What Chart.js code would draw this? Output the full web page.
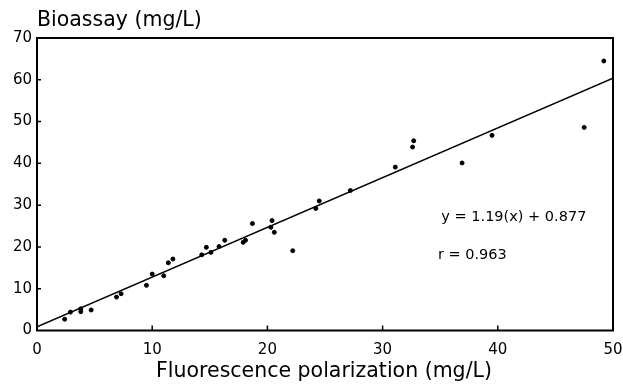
<!DOCTYPE html>
<html><head><meta charset="utf-8">
<script src="https://cdn.jsdelivr.net/npm/chart.js@4"></script>
<style>html,body{margin:0;padding:0;background:#fff}#wrap{width:623px;height:384px}</style>
</head><body><div id="wrap"><canvas id="c" width="623" height="384"></canvas></div>
<script>
const fluorescence = [2.4, 2.9, 3.8, 3.8, 4.7, 6.9, 7.3, 9.5, 10.0, 11.0, 11.4, 11.8, 14.3, 14.7, 15.1, 15.8, 16.3, 17.9, 18.1, 18.7, 20.3, 20.4, 20.6, 22.2, 24.2, 24.5, 27.2, 31.1, 32.6, 32.7, 36.9, 39.5, 47.5, 49.2];
const bioassay    = [2.7, 4.4, 5.2, 4.5, 4.9, 8.0, 8.8, 10.8, 13.5, 13.1, 16.2, 17.1, 18.1, 19.9, 18.7, 20.1, 21.6, 21.1, 21.6, 25.6, 24.7, 26.3, 23.5, 19.1, 29.2, 31.0, 33.5, 39.1, 43.9, 45.4, 40.1, 46.7, 48.6, 64.5];
const fitX = [0, 50];
const fitY = [0.877, 60.377];
const xTicks = [0, 10, 20, 30, 40, 50];
const yTicks = [0, 10, 20, 30, 40, 50, 60, 70];
const yAxisTitle = 'Bioassay (mg/L)';
const xAxisTitle = 'Fluorescence polarization (mg/L)';
const noteLines = ['y = 1.19(x) + 0.877', 'r = 0.963'];
const notePos = [[35.1, 27.2], [34.8, 18.1]];

const FONT = '"DejaVu Sans", "Liberation Sans", sans-serif';

const extras = {
  id: 'extras',
  afterDraw(chart) {
    const ctx = chart.ctx, a = chart.chartArea;
    const xs = chart.scales.x, ys = chart.scales.y;
    ctx.save();
    ctx.strokeStyle = '#000';
    ctx.lineWidth = 2;
    ctx.strokeRect(a.left, a.top, a.right - a.left, a.bottom - a.top);
    ctx.lineWidth = 1.5;
    ctx.beginPath();
    yTicks.slice(1, -1).forEach(v => {
      const p = ys.getPixelForValue(v);
      ctx.moveTo(a.left, p); ctx.lineTo(a.left + 4, p);
    });
    xTicks.slice(1, -1).forEach(v => {
      const p = xs.getPixelForValue(v);
      ctx.moveTo(p, a.bottom); ctx.lineTo(p, a.bottom - 5);
    });
    ctx.stroke();
    ctx.fillStyle = '#000';
    ctx.textBaseline = 'middle';
    ctx.textAlign = 'left';
    ctx.font = '20.5px ' + FONT;
    ctx.fillText(yAxisTitle, a.left, 21);
    ctx.textAlign = 'center';
    ctx.fillText(xAxisTitle, 324, 372);
    ctx.textAlign = 'left';
    ctx.font = '14.5px ' + FONT;
    noteLines.forEach((t, i) => {
      ctx.fillText(t, xs.getPixelForValue(notePos[i][0]), ys.getPixelForValue(notePos[i][1]));
    });
    ctx.restore();
  }
};

new Chart(document.getElementById('c'), {
  type: 'scatter',
  data: {
    datasets: [
      {
        data: fluorescence.map((x, i) => ({x, y: bioassay[i]})),
        backgroundColor: '#000', borderColor: '#000',
        pointRadius: 2, pointHoverRadius: 2
      },
      {
        type: 'line',
        data: fitX.map((x, i) => ({x, y: fitY[i]})),
        borderColor: '#000', borderWidth: 1.6, pointRadius: 0, fill: false
      }
    ]
  },
  options: {
    responsive: false,
    animation: false,
    layout: {padding: {top: 38, right: 10, left: 0, bottom: 0}},
    plugins: {legend: {display: false}, tooltip: {enabled: false}},
    scales: {
      x: {
        type: 'linear', min: 0, max: 50,
        afterBuildTicks: s => { s.ticks = xTicks.map(v => ({value: v})); },
        afterFit: s => { s.height = 53.5; s.paddingLeft = 0; s.paddingRight = 0; },
        grid: {display: false, drawTicks: false},
        border: {display: false},
        ticks: {color: '#000', font: {family: FONT, size: 15}, padding: 11, maxRotation: 0}
      },
      y: {
        type: 'linear', min: 0, max: 70,
        afterBuildTicks: s => { s.ticks = yTicks.map(v => ({value: v})); },
        afterFit: s => { s.width = 37; s.paddingTop = 0; s.paddingBottom = 0; },
        grid: {display: false, drawTicks: false},
        border: {display: false},
        ticks: {color: '#000', font: {family: FONT, size: 15}, padding: 5}
      }
    }
  },
  plugins: [extras]
});
</script>
</body></html>
